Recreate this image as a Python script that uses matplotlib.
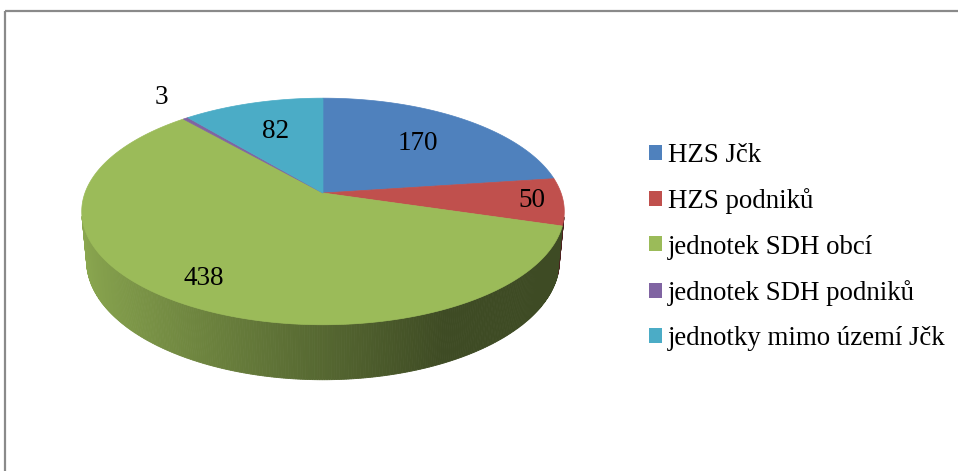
import numpy as np
import matplotlib
matplotlib.use("Agg")
import matplotlib.pyplot as plt
from matplotlib.patches import Polygon, Patch
from matplotlib.colors import to_rgb

# data
categories = ["HZS Jčk", "HZS podniků", "jednotek SDH obcí",
              "jednotek SDH podniků", "jednotky mimo území Jčk"]
values = [170, 50, 438, 3, 82]
colors = ["#4F81BD", "#C0504D", "#9BBB59", "#8064A2", "#4BACC6"]

# layout / styling (pixels)
W, H = 958, 471
CX, CY = 323, 193          # screen position of pie apex
ELEV = np.radians(27.6)    # tilt of the pie
DIST = 5.44                # camera distance (in radii)
FOC = 1295                 # projection scale
THICK = 0.236              # thickness of the pie (in radii)
label_r = [0.65, 0.87, 0.82, 1.2, 0.65]
FONT = "Liberation Serif"


def project(X, Y, Z):
    s, c = np.sin(ELEV), np.cos(ELEV)
    depth = DIST + Y * c - Z * s
    xs = CX + X * FOC / depth
    ys = CY - (Y * s + Z * c) * FOC / depth
    return xs, ys


def shade(col, f):
    r, g, b = to_rgb(col)
    return (r * f, g * f, b * f)


fig = plt.figure(figsize=(W / 100, H / 100), dpi=100)
ax = fig.add_axes([0, 0, 1, 1])
ax.set_xlim(0, W)
ax.set_ylim(H, 0)
ax.axis("off")

total = float(sum(values))
bounds = np.concatenate([[0], np.cumsum(values)]) / total * 2 * np.pi

# outer side wall (only parts facing the viewer)
lim = -1.0 / (DIST * np.cos(ELEV))
for i, col in enumerate(colors):
    a0, a1 = bounds[i], bounds[i + 1]
    n = max(2, int((a1 - a0) / (2 * np.pi) * 720))
    th = np.linspace(a0, a1, n + 1)
    for t0, t1 in zip(th[:-1], th[1:]):
        tm = 0.5 * (t0 + t1)
        if np.cos(tm) >= lim:
            continue
        X = np.array([np.sin(t0), np.sin(t1), np.sin(t1), np.sin(t0)])
        Y = np.array([np.cos(t0), np.cos(t1), np.cos(t1), np.cos(t0)])
        Z = np.array([0, 0, -THICK, -THICK])
        xs, ys = project(X, Y, Z)
        u = (np.sin(tm) + 1) / 2
        f = max(0.40, 0.90 - 0.5 * u / 0.72)
        c = shade(col, f)
        ax.add_patch(Polygon(np.column_stack([xs, ys]), closed=True,
                             facecolor=c, edgecolor=c, lw=0.6))

# top face
for i, col in enumerate(colors):
    a0, a1 = bounds[i], bounds[i + 1]
    th = np.linspace(a0, a1, max(3, int((a1 - a0) * 80)))
    X = np.concatenate([[0], np.sin(th)])
    Y = np.concatenate([[0], np.cos(th)])
    xs, ys = project(X, Y, np.zeros_like(X))
    ax.add_patch(Polygon(np.column_stack([xs, ys]), closed=True,
                         facecolor=col, edgecolor=col, lw=0.5))

# data labels
for i, v in enumerate(values):
    tm = 0.5 * (bounds[i] + bounds[i + 1])
    r = label_r[i]
    lx, ly = project(r * np.sin(tm), r * np.cos(tm), 0.0)
    dy = -8 if r > 1 else 0
    ax.text(lx, ly + dy, str(v), ha="center", va="center",
            fontsize=19.5, family=FONT, color="black")

# legend
handles = [Patch(facecolor=c, edgecolor="none") for c in colors]
leg = ax.legend(handles, categories, loc="center left",
                bbox_to_anchor=(649 / W, 1 - 247 / H),
                bbox_transform=fig.transFigure, frameon=False,
                prop={"family": FONT, "size": 19.4},
                handlelength=0.48, handleheight=0.48, handletextpad=0.22,
                labelspacing=0.76, borderpad=0, borderaxespad=0)

# chart frame (top and left edges visible)
ax.plot([5, W], [10.5, 10.5], color="#8a8a8a", lw=1.6, solid_capstyle="butt")
ax.plot([5, 5], [10.5, H], color="#8a8a8a", lw=1.6, solid_capstyle="butt")

fig.savefig("out.png", dpi=100)
